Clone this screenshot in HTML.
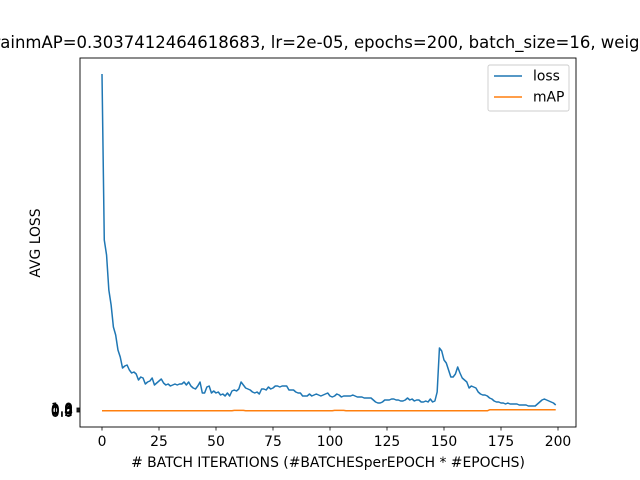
<!DOCTYPE html>
<html><head><meta charset="utf-8"><style>
body{margin:0;background:#fff;}
svg{display:block;font-family:"DejaVu Sans","Liberation Sans",sans-serif;}
</style></head><body>
<svg id="chart" width="640" height="480">
<rect width="640" height="480" fill="#fff"/>
<text x="-13" y="48" text-anchor="start" font-size="16.5">trainmAP=0.3037412464618683, lr=2e-05, epochs=200, batch_size=16, weight_decay=0.0001</text>
<g id="plot"></g>
<rect x="80" y="58" width="496" height="369" fill="none" stroke="#000" stroke-width="0.9"/>
<text x="328" y="467" text-anchor="middle" font-size="13.9"># BATCH ITERATIONS (#BATCHESperEPOCH * #EPOCHS)</text>
<text x="40" y="243" text-anchor="middle" font-size="13.9" transform="rotate(-90 40 243)">AVG LOSS</text>
<g>
<rect x="488" y="65" width="81" height="46" rx="2" fill="#fff" stroke="#ccc" stroke-width="0.9"/>
<line x1="494" y1="76" x2="522" y2="76" stroke="#1f77b4" stroke-width="1.5"/>
<text x="533" y="80.5" font-size="13.9">loss</text>
<line x1="494" y1="97" x2="522" y2="97" stroke="#ff7f0e" stroke-width="1.5"/>
<text x="533" y="101.5" font-size="13.9">mAP</text>
</g>
</svg>
<script>
const lossPix = [74,240,255,290,305,327,335,350,357,368,366,365,370,373,372,374,380,377,378,384,382,381,378,385,383,381,379,383,385,384,386,385,384,385,384,384,382,385,382,386,388,389,386,382,393,393,387,386,393,391,393,392,395,394,396,393,396,391,390,391,389,382,385,388,389,390,392,393,392,394,389,389,390,387,389,388,386,386,387,386,386,386,390,390,390,392,393,393,396,396,396,394,396,395,394,395,396,395,394,393,396,397,396,394,395,397,396,396,396,396,395,396,397,397,397,398,398,398,398,400,402,403,403,402,400,400,400,399,399,400,400,401,401,400,398,400,399,401,400,400,402,402,401,402,399,402,401,392,348,351,360,363,370,377,377,374,367,373,378,380,382,388,386,387,388,392,394,395,395,396,398,399,401,402,402,403,403,404,403,404,404,404,404,405,405,405,405,406,406,406,406,404,402,400,399,400,401,402,403,405];
const lossValues = lossPix.map(p => +((412 - p) / 4).toFixed(2));
const mapValues = [];
for (let i = 0; i < 200; i++) {
  mapValues.push((i>=58&&i<=62)||(i>=102&&i<=106)?0.4:(i>=170?0.55:0.3));
}
const xTicks = [0,25,50,75,100,125,150,175,200];
const yTicks = [0.0,0.2,0.4,0.6,0.8,1.0];
const xs = v => 102 + v * 2.28;
const ys = v => 412 - v * 4;
const NS = 'http://www.w3.org/2000/svg';
const plot = document.getElementById('plot');
function mk(tag, attrs){const e=document.createElementNS(NS,tag);for(const k in attrs)e.setAttribute(k,attrs[k]);plot.appendChild(e);return e;}
xTicks.forEach(t=>{
  const l=mk('line',{x1:xs(t),x2:xs(t),y1:427,y2:430.5,stroke:'#000','stroke-width':0.8});
  
  
  const tx=mk('text',{x:xs(t),y:446,'text-anchor':'middle','font-size':13.9});
  
  
  tx.textContent=t;
});
yTicks.forEach(t=>{
  const l=mk('line',{x1:76.5,x2:80,y1:ys(t),y2:ys(t),stroke:'#000','stroke-width':0.8});
  
  
  const tx=mk('text',{x:73,y:ys(t)+5,'text-anchor':'end','font-size':13.9});
  
  
  tx.textContent=t.toFixed(1);
});
const lp=mk('polyline',{points:lossValues.map((v,i)=>xs(i)+','+ys(v)).join(' '),fill:'none',stroke:'#1f77b4','stroke-width':1.5,'stroke-linejoin':'round'});


const mp=mk('polyline',{points:mapValues.map((v,i)=>xs(i)+','+ys(v)).join(' '),fill:'none',stroke:'#ff7f0e','stroke-width':1.5,'stroke-linejoin':'round'});


</script>
</body></html>
